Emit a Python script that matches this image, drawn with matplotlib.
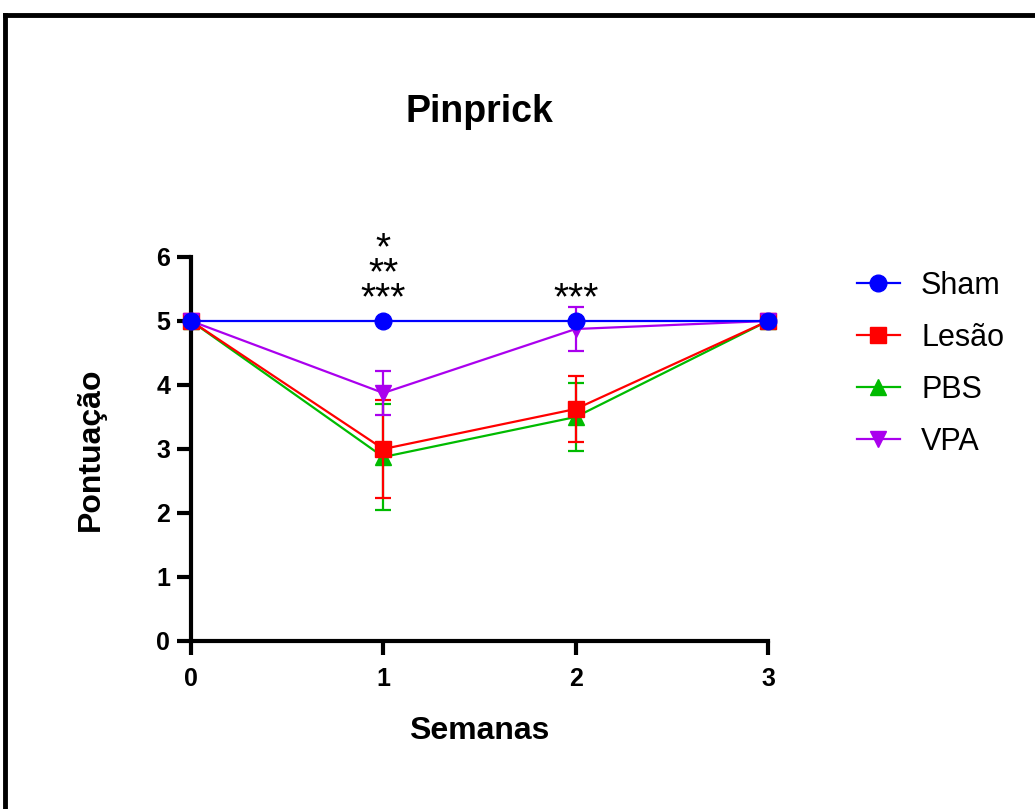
import matplotlib
matplotlib.use("Agg")
import matplotlib.pyplot as plt
from matplotlib.lines import Line2D

plt.rcParams['font.family'] = ['Liberation Sans', 'DejaVu Sans']

weeks = [0, 1, 2, 3]
groups = ["Sham", "Lesão", "PBS", "VPA"]
sham_mean = [5, 5, 5, 5]
sham_err = [0, 0, 0, 0]
lesao_mean = [5, 3.0, 3.625, 5]
lesao_err = [0, 0.76, 0.52, 0]
pbs_mean = [5, 2.875, 3.5, 5]
pbs_err = [0, 0.83, 0.53, 0]
vpa_mean = [5, 3.875, 4.875, 5]
vpa_err = [0, 0.35, 0.35, 0]
sig_week1 = "*\n**\n***"
sig_week2 = "***"

fig = plt.figure(figsize=(10.35, 8.09), dpi=100)
ax = fig.add_axes([191/1035, 1-641/809, (768-191)/1035, (641-257)/809])

series = [
    (sham_mean, sham_err, "#0000ff", "o", 12),
    (lesao_mean, lesao_err, "#ff0000", "s", 11),
    (pbs_mean, pbs_err, "#00bb00", "^", 11),
    (vpa_mean, vpa_err, "#aa00ee", "v", 11),
]
draw_order = [2, 1, 3, 0]
for z, i in enumerate(draw_order):
    m, e, c, mk, ms = series[i]
    h = ax.errorbar(weeks, m, yerr=e, color=c, marker=mk, markersize=ms,
                    linewidth=1.6, elinewidth=1.6, capsize=6, capthick=1.6,
                    zorder=3 + z)
    for child in h.get_children():
        child.set_clip_on(False)

ax.set_xlim(0, 3)
ax.set_ylim(0, 6)
ax.set_xticks([0, 1, 2, 3])
ax.set_yticks(range(0, 7))
for s in ["top", "right"]:
    ax.spines[s].set_visible(False)
for s in ["left", "bottom"]:
    ax.spines[s].set_linewidth(3)
ax.tick_params(axis="both", width=3, length=10, labelsize=18)
ax.tick_params(axis="x", pad=9)
ax.tick_params(axis="y", pad=5)
for lbl in ax.get_xticklabels() + ax.get_yticklabels():
    lbl.set_fontweight("bold")

ax.set_title("Pinprick", fontsize=27, fontweight="bold", pad=97)
ax.set_xlabel("Semanas", fontsize=23, fontweight="bold", labelpad=18)
ax.set_ylabel("Pontuação", fontsize=23, fontweight="bold", labelpad=36)

# significance stars
ax.text(1, 5.19, sig_week1, ha="center", va="baseline", multialignment="center",
        fontsize=28, linespacing=0.6, clip_on=False)
ax.text(2, 5.19, sig_week2, ha="center", va="baseline",
        fontsize=28, clip_on=False)

handles = [Line2D([], [], color=c, marker=mk, markersize=ms, linewidth=1.6)
           for (_, _, c, mk, ms) in series]
leg = ax.legend(handles, groups, loc="upper left",
                bbox_to_anchor=(1.154, 0.964), frameon=False, fontsize=22,
                handlelength=1.4, labelspacing=0.72, handletextpad=0.7,
                borderaxespad=0.0, borderpad=0.0)

# outer frame (top and left visible)
fig.add_artist(Line2D([5/1035, 5/1035], [0, 1 - 15/809], color="black", lw=3.5,
                      transform=fig.transFigure))
fig.add_artist(Line2D([5/1035, 1], [1 - 15/809, 1 - 15/809], color="black", lw=3.5,
                      transform=fig.transFigure))

fig.savefig("out.png", dpi=100)
